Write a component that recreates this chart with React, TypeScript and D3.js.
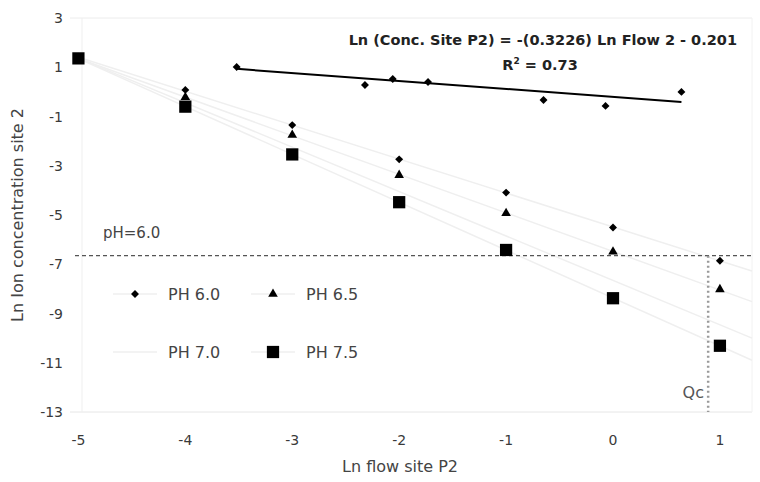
import * as React from 'react'
import * as d3 from 'd3'

// Ln flow site P2 (x) for the four pH series
const flows = [-5, -4, -3, -2, -1, 0, 1]
const ph60 = [1.36, 0.08, -1.35, -2.74, -4.09, -5.51, -6.86]
const ph65 = [1.36, -0.22, -1.75, -3.38, -4.93, -6.49, -8.02]
const ph75 = [1.36, -0.6, -2.54, -4.48, -6.42, -8.38, -10.31]
// PH 7.0 has no markers, only its faint trend line (ends)
const ph70Line = [[-5, 1.36], [1.3, -10.0]]

// site P2 measured points with the fitted line
const siteX = [-3.52, -2.32, -2.06, -1.73, -0.65, -0.07, 0.64]
const siteY = [1.01, 0.28, 0.52, 0.4, -0.33, -0.57, 0.0]
const slope = -0.3226
const intercept = -0.201

const xTicks = [-5, -4, -3, -2, -1, 0, 1]
const yTicks = [3, 1, -1, -3, -5, -7, -9, -11, -13]
const phLimit = -6.65
const qc = 0.89

const W = 760
const H = 482

const x = d3.scaleLinear().domain([-5.06, 1.3]).range([72, 752])
const y = d3.scaleLinear().domain([-13, 3]).range([412, 18])

const diamond = d3.symbol().type(d3.symbolDiamond2).size(40)()
const triangle = d3.symbol().type(d3.symbolTriangle).size(40)()
const square = d3.symbol().type(d3.symbolSquare).size(150)()

function fit(xs: number[], ys: number[]) {
  const mx = d3.mean(xs) as number
  const my = d3.mean(ys) as number
  let num = 0
  let den = 0
  xs.forEach((v, i) => {
    num += (v - mx) * (ys[i] - my)
    den += (v - mx) * (v - mx)
  })
  const b = num / den
  return (v: number) => my + b * (v - mx)
}

const line = d3.line<number[]>().x(d => x(d[0])).y(d => y(d[1]))

const font = 'DejaVu Sans, sans-serif'

export default function App() {
  const trends = [ph60, ph65, ph75].map(s => {
    const f = fit(flows, s)
    return [[-5, f(-5)], [1.3, f(1.3)]]
  })
  trends.push(ph70Line)

  const series = [
    { vals: ph60, path: diamond },
    { vals: ph65, path: triangle },
    { vals: ph75, path: square },
  ]

  const legend = [
    { label: 'PH 6.0', path: diamond, lx: 135, ly: 294 },
    { label: 'PH 6.5', path: triangle, lx: 273, ly: 294 },
    { label: 'PH 7.0', path: null, lx: 135, ly: 352 },
    { label: 'PH 7.5', path: square, lx: 273, ly: 352 },
  ]

  return (
    <svg width={W} height={H} style={{ position: 'absolute', left: 0, top: 0, background: '#fff' }} fontFamily={font}>
      {/* frame */}
      <line x1={70} x2={752} y1={y(3)} y2={y(3)} stroke="#ececec" />
      <line x1={70} x2={752} y1={y(-13)} y2={y(-13)} stroke="#e6e6e6" />
      <line x1={82} x2={82} y1={y(3)} y2={y(-13)} stroke="#efefef" />
      <line x1={752} x2={752} y1={y(3)} y2={y(-13)} stroke="#f2f2f2" />

      {/* ticks */}
      {yTicks.map(t => (
        <text key={t} x={63} y={y(t) + 5} textAnchor="end" fontSize={14} fill="#3a3a3a">{t}</text>
      ))}
      {xTicks.map(t => (
        <text key={t} x={x(t)} y={445} textAnchor="middle" fontSize={14} fill="#3a3a3a">{t}</text>
      ))}

      <text x={400} y={472} textAnchor="middle" fontSize={16} fill="#444">Ln flow site P2</text>
      <text transform={`translate(23,215) rotate(-90)`} textAnchor="middle" fontSize={16} fill="#444">Ln Ion concentration site 2</text>

      {/* trend lines */}
      {trends.map((t, i) => (
        <path key={i} d={line(t) as string} fill="none" stroke="#efefef" strokeWidth={1.5} />
      ))}

      {/* pH limit and Qc */}
      <line x1={75} x2={752} y1={y(phLimit)} y2={y(phLimit)} stroke="#555" strokeWidth={1.2} strokeDasharray="4,3" />
      <line x1={x(qc)} x2={x(qc)} y1={y(phLimit)} y2={y(-13)} stroke="#999" strokeWidth={2.5} strokeDasharray="2,3" />
      <text x={103} y={238} fontSize={15} fill="#444">pH=6.0</text>
      <text x={704} y={398} textAnchor="end" fontSize={16} fill="#555">Qc</text>

      {/* pH series markers */}
      {series.map((s, si) =>
        s.vals.map((v, i) => (
          <path key={`${si}-${i}`} d={s.path as string} transform={`translate(${x(flows[i])},${y(v)})`} fill="#000" />
        ))
      )}

      {/* site P2 regression */}
      <line
        x1={x(siteX[0])} y1={y(slope * siteX[0] + intercept)}
        x2={x(siteX[siteX.length - 1])} y2={y(slope * siteX[siteX.length - 1] + intercept)}
        stroke="#000" strokeWidth={2}
      />
      {siteX.map((v, i) => (
        <path key={i} d={diamond as string} transform={`translate(${x(v)},${y(siteY[i])})`} fill="#000" />
      ))}
      <text x={737} y={45} textAnchor="end" fontSize={14.5} fontWeight="bold" fill="#222">
        Ln (Conc. Site P2) = -(0.3226) Ln Flow 2 - 0.201
      </text>
      <text x={540} y={70} textAnchor="middle" fontSize={14.5} fontWeight="bold" fill="#222">
        R<tspan dy={-6} fontSize={9}>2</tspan><tspan dy={6}> = 0.73</tspan>
      </text>

      {/* legend */}
      {legend.map(l => (
        <g key={l.label}>
          <line x1={l.lx - 22} x2={l.lx + 22} y1={l.ly} y2={l.ly} stroke="#efefef" strokeWidth={1.5} />
          {l.path && <path d={l.path as string} transform={`translate(${l.lx},${l.ly})`} fill="#000" />}
          <text x={l.lx + 33} y={l.ly + 6} fontSize={16} fill="#444">{l.label}</text>
        </g>
      ))}
    </svg>
  )
}
